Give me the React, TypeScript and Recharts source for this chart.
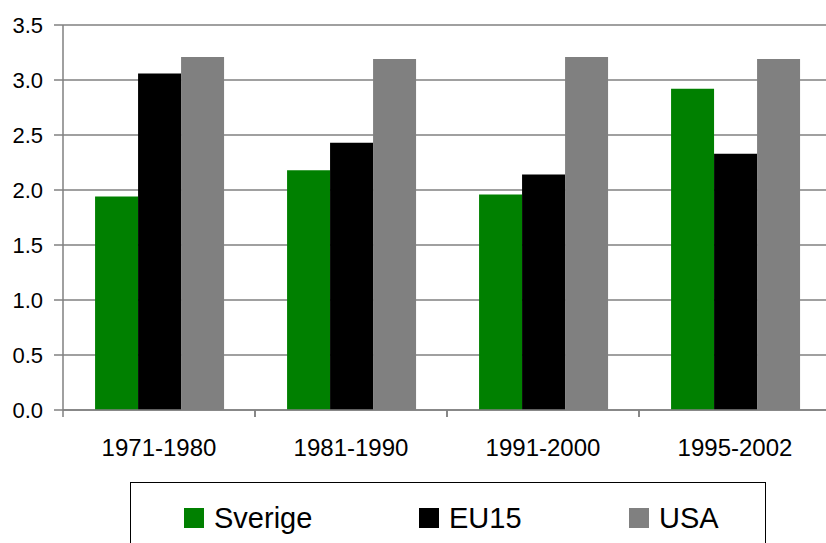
import { Bar, BarChart, CartesianGrid, Legend, XAxis, YAxis } from "recharts";

const periods = ["1971-1980", "1981-1990", "1991-2000", "1995-2002"];
const seriesNames = ["Sverige", "EU15", "USA"];
const sverige = [1.94, 2.18, 1.96, 2.92];
const eu15 = [3.06, 2.43, 2.14, 2.33];
const usa = [3.21, 3.19, 3.21, 3.19];
const yTicks = [0, 0.5, 1, 1.5, 2, 2.5, 3, 3.5];

const chartData = periods.map((period, i) => ({
  period,
  Sverige: sverige[i],
  EU15: eu15[i],
  USA: usa[i],
}));

const FONT = "'Liberation Sans', Arial, sans-serif";
const legendLeft = [53, 288, 498];
const LABEL_GAP = 29;

// category label plus a tick mark on the boundary between categories
const PeriodTick = ({ x, y, payload }: any) => {
  const half = payload?.offset ?? 0;
  const axisY = y - LABEL_GAP;
  return (
    <g>
      <line
        x1={x - half}
        x2={x - half}
        y1={axisY}
        y2={axisY + 7}
        stroke="#808080"
        strokeWidth={1.5}
      />
      <line
        x1={x + half}
        x2={x + half}
        y1={axisY}
        y2={axisY + 7}
        stroke="#808080"
        strokeWidth={1.5}
      />
      <text
        x={x}
        y={y}
        dy="0.71em"
        textAnchor="middle"
        fill="#000"
        fontSize={24}
        fontFamily={FONT}
      >
        {payload.value}
      </text>
    </g>
  );
};

const LegendBox = ({ payload }: any) => {
  const items = seriesNames
    .map((name) => (payload || []).find((p: any) => p.value === name))
    .filter(Boolean);
  return (
    <div
      style={{
        position: "relative",
        width: 634,
        height: 70,
        border: "1px solid #000",
        background: "#fff",
        fontFamily: FONT,
      }}
    >
      {items.map((item: any, i: number) => (
        <div
          key={item.value}
          style={{
            position: "absolute",
            left: legendLeft[i],
            top: 18,
            display: "flex",
            alignItems: "center",
            height: 34,
          }}
        >
          <span
            style={{
              display: "inline-block",
              width: 20,
              height: 20,
              background: item.color,
              marginRight: 10,
            }}
          />
          <span style={{ fontSize: 29, color: "#000" }}>{item.value}</span>
        </div>
      ))}
    </div>
  );
};

export default function App() {
  return (
    <div
      style={{
        position: "absolute",
        left: 0,
        top: 0,
        width: 826,
        height: 543,
        overflow: "hidden",
        background: "#fff",
      }}
    >
      <BarChart
        width={835}
        height={543}
        data={chartData}
        margin={{ top: 25, right: 4, left: 0, bottom: 0 }}
        barCategoryGap="16.7%"
        barGap={0}
      >
        <CartesianGrid vertical={false} stroke="#808080" strokeWidth={1.5} />
        <XAxis
          dataKey="period"
          tickLine={false}
          tickSize={0}
          tickMargin={LABEL_GAP}
          axisLine={{ stroke: "#808080", strokeWidth: 1.5 }}
          tick={<PeriodTick />}
          height={133}
        />
        <YAxis
          domain={[0, 3.5]}
          ticks={yTicks}
          width={63}
          tickSize={9}
          tickMargin={11}
          tickLine={{ stroke: "#808080", strokeWidth: 1.5 }}
          axisLine={{ stroke: "#808080", strokeWidth: 1.5 }}
          tick={{ fill: "#000", fontSize: 22, fontFamily: FONT }}
          tickFormatter={(v: number) => v.toFixed(1)}
        />
        <Legend
          layout="vertical"
          align="center"
          verticalAlign="middle"
          wrapperStyle={{ left: 130, top: 482, width: 636, height: 72 }}
          content={<LegendBox />}
        />
        <Bar dataKey="Sverige" fill="#008000" isAnimationActive={false} />
        <Bar dataKey="EU15" fill="#000000" isAnimationActive={false} />
        <Bar dataKey="USA" fill="#808080" isAnimationActive={false} />
      </BarChart>
    </div>
  );
}
